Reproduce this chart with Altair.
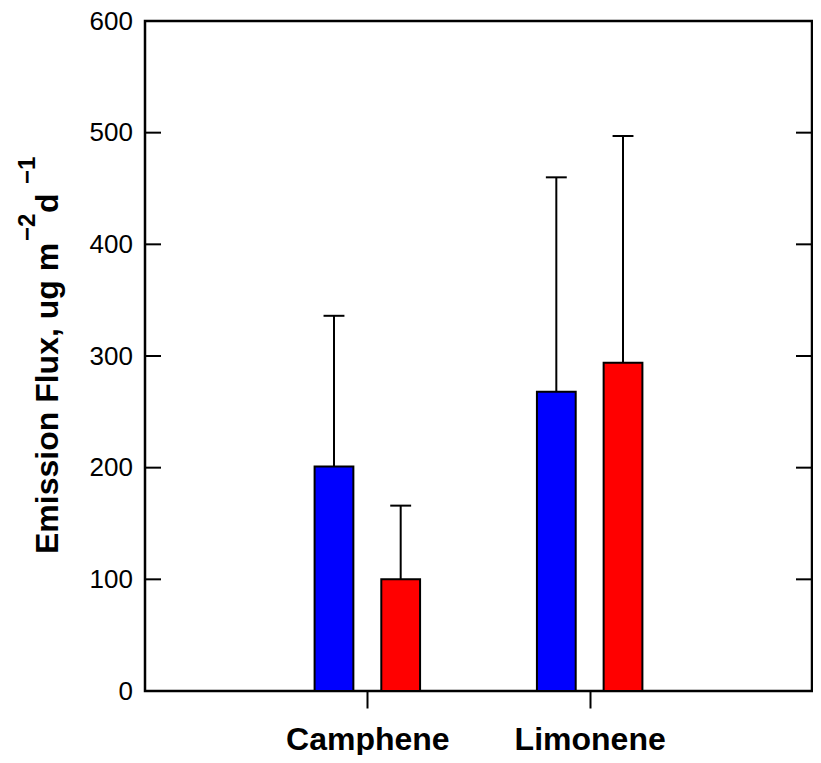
import json
import altair as alt
import pandas as pd

# ---- data ----
compounds = ["Camphene", "Limonene"]
groups = ["Group A", "Group B"]
group_colors = ["#0000ff", "#ff0000"]
mean_a = [201, 268]
upper_a = [336, 460]
mean_b = [100, 294]
upper_b = [166, 497]
y_ticks = [0, 100, 200, 300, 400, 500, 600]

rows = []
for i, c in enumerate(compounds):
    rows.append({"compound": c, "idx": i + 1, "gi": 0, "group": groups[0],
                 "mean": mean_a[i], "upper": upper_a[i]})
    rows.append({"compound": c, "idx": i + 1, "gi": 1, "group": groups[1],
                 "mean": mean_b[i], "upper": upper_b[i]})
df = pd.DataFrame(rows)
tick_df = pd.DataFrame({"v": y_ticks})

FONT = "Liberation Sans"
W, H = 667, 670

xscale = alt.Scale(domain=[0, len(compounds) + 1], nice=False, zero=False)
yscale = alt.Scale(domain=[0, 600], nice=False, zero=False)

label_expr = json.dumps(compounds).replace('"', "'") + "[datum.value - 1]"
xaxis = alt.Axis(title=None, values=list(range(1, len(compounds) + 1)),
                 labelExpr=label_expr, domain=False, grid=False,
                 ticks=True, tickSize=17, tickWidth=2, tickColor="black",
                 labelFont=FONT, labelFontSize=32, labelFontWeight="bold",
                 labelColor="black", labelPadding=16, labelAngle=0)
yaxis = alt.Axis(title=None, values=y_ticks, domain=False, grid=False,
                 ticks=False, tickSize=0, labelFont=FONT, labelFontSize=26,
                 labelColor="black", labelPadding=12.5)

base = alt.Chart(df).transform_calculate(
    xc="datum.idx + (datum.gi - 0.5) * 0.3"
).transform_calculate(
    xl="datum.xc - 0.0872",
    xr="datum.xc + 0.0872",
    cl="datum.xc - 0.047",
    cr="datum.xc + 0.047",
)

color = alt.Color("group:N", scale=alt.Scale(domain=groups, range=group_colors), legend=None)

err = base.mark_rule(color="black", strokeWidth=2).encode(
    x=alt.X("xc:Q", scale=xscale, axis=xaxis),
    y=alt.Y("mean:Q", scale=yscale, axis=yaxis),
    y2="upper:Q",
)
caps = base.mark_rule(color="black", strokeWidth=2).encode(
    x=alt.X("cl:Q", scale=xscale, axis=xaxis),
    x2="cr:Q",
    y=alt.Y("upper:Q", scale=yscale, axis=yaxis),
)
bars = base.mark_bar(stroke="black", strokeWidth=2, opacity=1).encode(
    x=alt.X("xl:Q", scale=xscale, axis=xaxis),
    x2="xr:Q",
    y=alt.Y("mean:Q", scale=yscale, axis=yaxis),
    y2=alt.datum(0),
    color=color,
)

left_ticks = alt.Chart(tick_df).mark_rule(color="black", strokeWidth=2).encode(
    y=alt.Y("v:Q", scale=yscale, axis=yaxis),
    x=alt.value(0), x2=alt.value(16),
)
right_ticks = alt.Chart(tick_df).mark_rule(color="black", strokeWidth=2).encode(
    y=alt.Y("v:Q", scale=yscale, axis=yaxis),
    x=alt.value(W - 16), x2=alt.value(W),
)

# y-axis title with superscripts, built from rotated text pieces
title_pieces = [
    ("Emission Flux, ug m", 32, -87, 533),
    ("\u22122", 24, -110, 220),
    ("d", 32, -87, 192),
    ("\u22121", 24, -110, 163),
]
title_layers = []
for txt, size, xv, yv in title_pieces:
    title_layers.append(
        alt.Chart(alt.Data(values=[{"k": 1}])).mark_text(
            text=txt, angle=270, align="left", baseline="alphabetic",
            font=FONT, fontSize=size, fontWeight="bold", color="black",
        ).encode(x=alt.value(xv), y=alt.value(yv))
    )

chart = alt.layer(left_ticks, right_ticks, err, caps, bars, *title_layers).properties(
    width=W, height=H,
    padding={"left": 137, "top": 13, "right": 1, "bottom": 64},
    autosize=alt.AutoSizeParams(type="none"),
    background="white",
).configure_view(stroke="black", strokeWidth=2.5)

chart.save("out.html", embed_options={"renderer": "svg", "actions": False})
